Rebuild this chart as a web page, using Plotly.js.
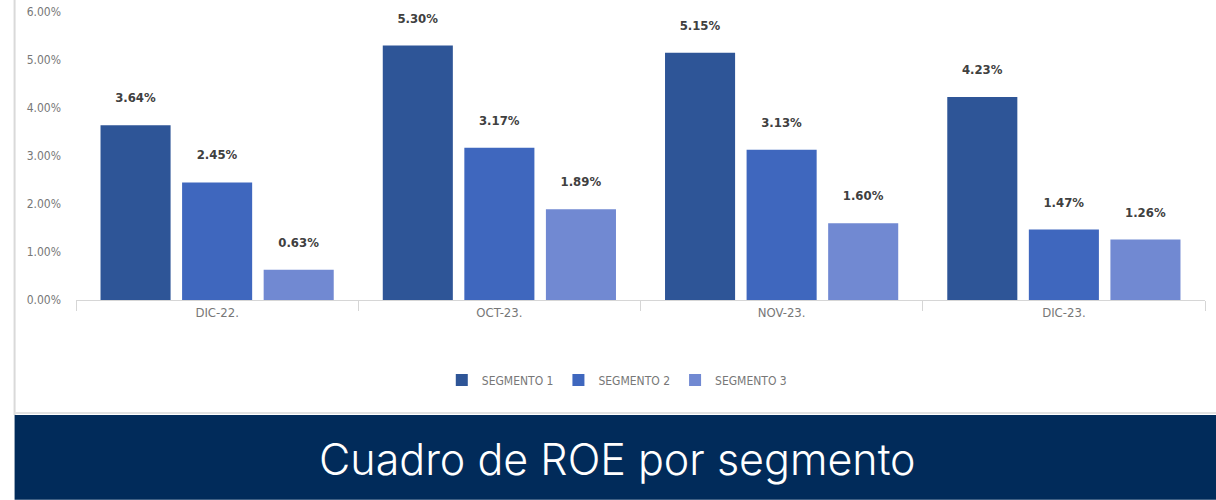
<!DOCTYPE html>
<html>
<head>
<meta charset="utf-8">
<script src="https://cdn.plot.ly/plotly-3.0.1.min.js"></script>
<style>
html,body{margin:0;padding:0;background:#fff;}
#chart{width:1216px;height:500px;}
</style>
</head>
<body>
<div id="chart"></div>
<script>
const categories = ["DIC-22.", "OCT-23.", "NOV-23.", "DIC-23."];
const seriesNames = ["SEGMENTO 1", "SEGMENTO 2", "SEGMENTO 3"];
const segmento1 = [3.64, 5.30, 5.15, 4.23];
const segmento2 = [2.45, 3.17, 3.13, 1.47];
const segmento3 = [0.63, 1.89, 1.60, 1.26];
const yTickVals = [0, 1, 2, 3, 4, 5, 6];
const yTickText = ["0.00%", "1.00%", "2.00%", "3.00%", "4.00%", "5.00%", "6.00%"];
const chartTitle = "Cuadro de ROE por segmento";

const colors = ["#2E5597", "#3F67BE", "#7189D2"];
const narrow = "'Liberation Sans Narrow', 'DejaVu Sans Condensed', 'Liberation Sans', sans-serif";
const allSeries = [segmento1, segmento2, segmento3];

const traces = allSeries.map((vals, i) => ({
  type: "bar",
  name: seriesNames[i],
  x: categories,
  y: vals,
  marker: {color: colors[i]},
  text: vals.map(v => v.toFixed(2) + "%<br>&nbsp;"),
  textposition: "outside",
  cliponaxis: false,
  textfont: {family: narrow, size: 13, color: "#404040", weight: "bold"},
  hoverinfo: "none"
}));

const layout = {
  width: 1216,
  height: 500,
  margin: {l: 76, r: 11, t: 12, b: 200, pad: 0},
  paper_bgcolor: "#ffffff",
  plot_bgcolor: "#ffffff",
  barmode: "group",
  bargap: 0.133,
  bargroupgap: 0.141,
  showlegend: true,
  legend: {
    orientation: "h",
    x: 0.479, xanchor: "center",
    y: -0.278, yanchor: "middle",
    font: {family: narrow, size: 12, color: "#777"},
    itemwidth: 30,
    traceorder: "normal"
  },
  xaxis: {
    type: "category",
    showline: true,
    linecolor: "#d6d6d6",
    linewidth: 1,
    ticks: "outside",
    tickson: "boundaries",
    ticklen: 10,
    tickcolor: "#d6d6d6",
    tickfont: {family: narrow, size: 13, color: "#777"},
    showgrid: false,
    zeroline: false,
    fixedrange: true
  },
  yaxis: {
    range: [0, 6],
    tickvals: yTickVals,
    ticktext: yTickText,
    tickfont: {family: narrow, size: 12, color: "#777"},
    showgrid: false,
    zeroline: false,
    showline: false,
    ticks: "",
    ticklabelstandoff: 14,
    fixedrange: true
  },
  shapes: [
    {type: "line", xref: "paper", yref: "paper", x0: -0.0544, x1: -0.0544, y0: -0.399, y1: 1.05,
     line: {color: "#d9d9d9", width: 2}},
    {type: "line", xref: "paper", yref: "paper", x0: -0.0544, x1: 1.02, y0: -0.392, y1: -0.392,
     line: {color: "#e2e2e2", width: 2}},
    {type: "rect", xref: "paper", yref: "paper", x0: -0.0544, x1: 1.02, y0: -0.694, y1: -0.399,
     fillcolor: "#012B5A", line: {width: 0}, layer: "above"}
  ],
  annotations: [
    {xref: "paper", yref: "paper", x: 0.4796, y: -0.553, xanchor: "center", yanchor: "middle",
     text: chartTitle, showarrow: false,
     font: {family: "Inter, 'Noto Sans', sans-serif", size: 43, color: "#ffffff", weight: 300}}
  ]
};

Plotly.newPlot("chart", traces, layout, {displayModeBar: false, staticPlot: true});
</script>
</body>
</html>
